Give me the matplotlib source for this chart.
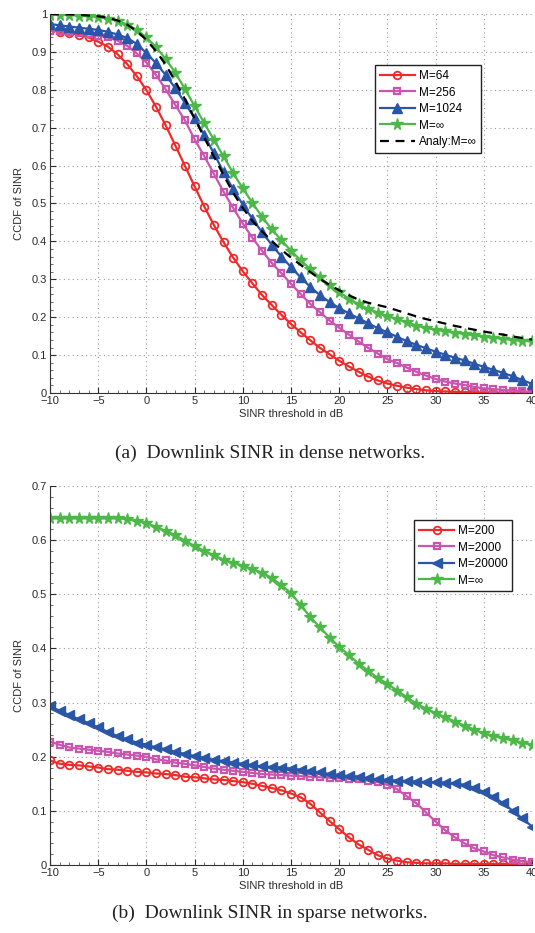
import matplotlib
matplotlib.use("Agg")
import matplotlib.pyplot as plt
from matplotlib.ticker import MultipleLocator, AutoMinorLocator, FuncFormatter

plt.rcParams['font.family'] = ['Liberation Sans', 'DejaVu Sans']
plt.rcParams['font.size'] = 8
plt.rcParams['axes.unicode_minus'] = True

# SINR threshold in dB
sinr_db = list(range(-10, 41))

# (a) dense networks
dense_m64 = [0.958, 0.953, 0.951, 0.945, 0.938, 0.927, 0.914, 0.894, 0.868, 0.836,
             0.799, 0.755, 0.706, 0.653, 0.599, 0.545, 0.492, 0.443, 0.398, 0.357,
             0.321, 0.289, 0.258, 0.232, 0.206, 0.182, 0.160, 0.139, 0.119, 0.102,
             0.085, 0.070, 0.056, 0.043, 0.033, 0.025, 0.019, 0.014, 0.010, 0.007,
             0.005, 0.004, 0.003, 0.002, 0.002, 0.001, 0.001, 0.001, 0.000, 0.000, 0.000]
dense_m256 = [0.956, 0.955, 0.953, 0.950, 0.947, 0.943, 0.938, 0.930, 0.916, 0.896,
              0.872, 0.839, 0.801, 0.760, 0.719, 0.669, 0.625, 0.578, 0.531, 0.488,
              0.447, 0.409, 0.375, 0.343, 0.316, 0.288, 0.261, 0.235, 0.213, 0.191,
              0.172, 0.154, 0.136, 0.119, 0.104, 0.089, 0.079, 0.067, 0.056, 0.046,
              0.037, 0.030, 0.025, 0.021, 0.016, 0.012, 0.010, 0.008, 0.006, 0.004, 0.003]
dense_m1024 = [0.974, 0.970, 0.967, 0.964, 0.961, 0.958, 0.953, 0.946, 0.937, 0.921,
               0.897, 0.870, 0.839, 0.804, 0.765, 0.725, 0.680, 0.632, 0.583, 0.537,
               0.497, 0.459, 0.424, 0.391, 0.360, 0.332, 0.305, 0.280, 0.258, 0.240,
               0.224, 0.210, 0.197, 0.184, 0.171, 0.160, 0.148, 0.137, 0.127, 0.118,
               0.109, 0.101, 0.093, 0.086, 0.077, 0.069, 0.061, 0.053, 0.044, 0.034, 0.024]
dense_minf = [0.998, 0.998, 0.997, 0.996, 0.994, 0.992, 0.988, 0.982, 0.972, 0.958,
              0.938, 0.913, 0.881, 0.845, 0.802, 0.757, 0.712, 0.668, 0.624, 0.580,
              0.540, 0.501, 0.465, 0.432, 0.403, 0.375, 0.350, 0.327, 0.305, 0.284,
              0.266, 0.249, 0.234, 0.222, 0.212, 0.203, 0.195, 0.186, 0.178, 0.172,
              0.167, 0.163, 0.159, 0.156, 0.152, 0.149, 0.146, 0.143, 0.140, 0.138, 0.136]
dense_analy = [1.000, 0.999, 0.999, 0.998, 0.996, 0.994, 0.990, 0.983, 0.972, 0.955,
               0.932, 0.902, 0.866, 0.822, 0.775, 0.724, 0.674, 0.624, 0.575, 0.528,
               0.488, 0.454, 0.426, 0.401, 0.378, 0.357, 0.338, 0.319, 0.301, 0.285,
               0.271, 0.258, 0.246, 0.238, 0.232, 0.226, 0.218, 0.210, 0.202, 0.195,
               0.189, 0.183, 0.177, 0.172, 0.167, 0.162, 0.158, 0.154, 0.149, 0.145, 0.141]

# (b) sparse networks
sparse_m200 = [0.193, 0.187, 0.185, 0.184, 0.182, 0.180, 0.177, 0.176, 0.174, 0.172,
               0.171, 0.169, 0.168, 0.166, 0.163, 0.162, 0.160, 0.158, 0.157, 0.155,
               0.153, 0.150, 0.146, 0.142, 0.138, 0.132, 0.125, 0.113, 0.097, 0.081,
               0.066, 0.051, 0.038, 0.028, 0.018, 0.012, 0.008, 0.005, 0.004, 0.003,
               0.003, 0.003, 0.002, 0.002, 0.002, 0.002, 0.002, 0.002, 0.002, 0.002, 0.002]
sparse_m2000 = [0.228, 0.222, 0.217, 0.215, 0.213, 0.211, 0.209, 0.206, 0.204, 0.202,
                0.200, 0.195, 0.193, 0.189, 0.187, 0.184, 0.181, 0.178, 0.176, 0.174,
                0.172, 0.170, 0.168, 0.167, 0.166, 0.165, 0.164, 0.163, 0.162, 0.161,
                0.160, 0.159, 0.158, 0.156, 0.153, 0.148, 0.140, 0.127, 0.114, 0.097,
                0.080, 0.064, 0.051, 0.040, 0.031, 0.025, 0.018, 0.014, 0.010, 0.007, 0.005]
sparse_m20000 = [0.293, 0.285, 0.277, 0.269, 0.262, 0.254, 0.246, 0.238, 0.232, 0.226,
                 0.222, 0.217, 0.214, 0.209, 0.205, 0.201, 0.198, 0.194, 0.192, 0.189,
                 0.187, 0.184, 0.182, 0.181, 0.180, 0.178, 0.176, 0.173, 0.171, 0.168,
                 0.166, 0.164, 0.162, 0.160, 0.158, 0.157, 0.156, 0.155, 0.154, 0.153,
                 0.153, 0.152, 0.151, 0.148, 0.143, 0.135, 0.126, 0.114, 0.100, 0.086, 0.071]
sparse_minf = [0.640, 0.640, 0.640, 0.640, 0.640, 0.640, 0.640, 0.640, 0.639, 0.635,
               0.632, 0.624, 0.617, 0.609, 0.599, 0.589, 0.580, 0.572, 0.564, 0.558,
               0.553, 0.546, 0.540, 0.530, 0.517, 0.502, 0.480, 0.458, 0.439, 0.420,
               0.403, 0.388, 0.372, 0.359, 0.345, 0.335, 0.322, 0.310, 0.298, 0.289,
               0.280, 0.273, 0.265, 0.257, 0.250, 0.243, 0.238, 0.234, 0.230, 0.226, 0.222]

RED = '#ee2b2b'
MAG = '#c955ae'
BLUE = '#2a56a8'
GREEN = '#4cb848'


def fmt_y(v, pos):
    if abs(v) < 1e-9:
        return '0'
    if abs(v - 1) < 1e-9:
        return '1'
    return '%.1f' % v


def style_axes(ax, ymax):
    ax.set_xlim(-10, 40)
    ax.set_ylim(0, ymax)
    ax.xaxis.set_major_locator(MultipleLocator(5))
    ax.yaxis.set_major_locator(MultipleLocator(0.1))
    ax.xaxis.set_minor_locator(AutoMinorLocator(5))
    ax.yaxis.set_minor_locator(AutoMinorLocator(5))
    ax.yaxis.set_major_formatter(FuncFormatter(fmt_y))
    ax.tick_params(which='major', direction='in', length=4, width=0.8,
                   colors='#2a2a2a', labelsize=8, pad=2)
    ax.tick_params(which='minor', direction='in', length=2, width=0.6, colors='#555555')
    ax.spines['top'].set_visible(False)
    ax.spines['right'].set_visible(False)
    ax.spines['left'].set_color('#333333')
    ax.spines['bottom'].set_color('#333333')
    ax.grid(True, which='major', linestyle=(0, (1, 3)), color='#999999', linewidth=0.8)
    ax.set_axisbelow(True)
    ax.set_xlabel('SINR threshold in dB', fontsize=8, color='#2a2a2a', labelpad=2)
    ax.set_ylabel('CCDF of SINR', fontsize=8, color='#2a2a2a', labelpad=6)


def add_legend(ax, anchor):
    leg = ax.legend(loc='upper left', bbox_to_anchor=anchor, fontsize=8.5,
                    handlelength=3.0, labelspacing=0.38, borderpad=0.4,
                    handletextpad=0.3, fancybox=False, framealpha=1)
    leg.get_frame().set_edgecolor('#222222')
    leg.get_frame().set_linewidth(1.0)


fig = plt.figure(figsize=(5.35, 9.33), dpi=100)
ax1 = fig.add_axes([0.0935, 0.5788, 0.901, 0.4062])
ax2 = fig.add_axes([0.0935, 0.0729, 0.901, 0.4062])

lw = 1.6
ms = 5.5
ax1.plot(sinr_db, dense_m64, '-o', color=RED, lw=lw, ms=ms, mfc='none', mew=1.3, label='M=64')
ax1.plot(sinr_db, dense_m256, '-s', color=MAG, lw=lw, ms=ms - 0.5, mfc='none', mew=1.6, label='M=256')
ax1.plot(sinr_db, dense_m1024, '-^', color=BLUE, lw=lw, ms=ms + 1, label='M=1024')
ax1.plot(sinr_db, dense_minf, '-*', color=GREEN, lw=lw, ms=ms + 3, label='M=\u221e')
ax1.plot(sinr_db, dense_analy, '--', color='black', lw=1.6, dashes=(4, 3), label='Analy:M=\u221e')
style_axes(ax1, 1.0)
add_legend(ax1, (0.662, 0.88))

ax2.plot(sinr_db, sparse_m200, '-o', color=RED, lw=lw, ms=ms, mfc='none', mew=1.3, label='M=200')
ax2.plot(sinr_db, sparse_m2000, '-s', color=MAG, lw=lw, ms=ms - 0.5, mfc='none', mew=1.6, label='M=2000')
ax2.plot(sinr_db, sparse_m20000, '-<', color=BLUE, lw=lw, ms=ms + 1, label='M=20000')
ax2.plot(sinr_db, sparse_minf, '-*', color=GREEN, lw=lw, ms=ms + 3, label='M=\u221e')
style_axes(ax2, 0.7)
add_legend(ax2, (0.743, 0.925))

fig.text(0.505, 1 - 453 / 933, '(a)  Downlink SINR in dense networks.', ha='center', va='center',
         fontsize=14, family='Liberation Serif', color='#222222')
fig.text(0.505, 1 - 913 / 933, '(b)  Downlink SINR in sparse networks.', ha='center', va='center',
         fontsize=14, family='Liberation Serif', color='#222222')

fig.savefig('out.png', dpi=100)
